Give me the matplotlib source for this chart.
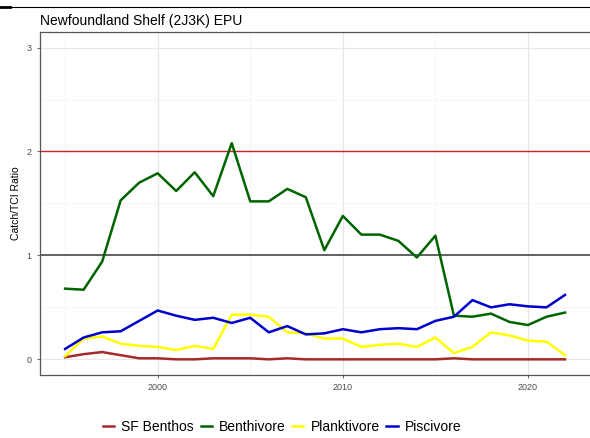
import matplotlib.pyplot as plt
from matplotlib.lines import Line2D

# catch / TCI ratio by guild, Newfoundland Shelf (2J3K)
years = list(range(1995, 2023))
sf_benthos = [0.02, 0.05, 0.07, 0.04, 0.01, 0.01, 0.00, 0.00, 0.01, 0.01,
              0.01, 0.00, 0.01, 0.00, 0.00, 0.00, 0.00, 0.00, 0.00, 0.00,
              0.00, 0.01, 0.00, 0.00, 0.00, 0.00, 0.00, 0.00]
benthivore = [0.68, 0.67, 0.94, 1.53, 1.70, 1.79, 1.62, 1.80, 1.57, 2.08,
              1.52, 1.52, 1.64, 1.56, 1.05, 1.38, 1.20, 1.20, 1.14, 0.98,
              1.19, 0.42, 0.41, 0.44, 0.36, 0.33, 0.41, 0.45]
planktivore = [0.03, 0.20, 0.22, 0.15, 0.13, 0.12, 0.09, 0.13, 0.10, 0.43,
               0.43, 0.41, 0.26, 0.25, 0.20, 0.20, 0.12, 0.14, 0.15, 0.12,
               0.21, 0.06, 0.12, 0.26, 0.23, 0.18, 0.17, 0.04]
piscivore = [0.10, 0.21, 0.26, 0.27, 0.37, 0.47, 0.42, 0.38, 0.40, 0.35,
             0.40, 0.26, 0.32, 0.24, 0.25, 0.29, 0.26, 0.29, 0.30, 0.29,
             0.37, 0.41, 0.57, 0.50, 0.53, 0.51, 0.50, 0.62]

guilds = ['SF Benthos', 'Benthivore', 'Planktivore', 'Piscivore']
colors = ['#a52a2a', '#006400', '#ffff00', '#0000cd']
series = [sf_benthos, benthivore, planktivore, piscivore]

plt.rcParams['font.family'] = ['Liberation Sans', 'DejaVu Sans']

fig = plt.figure(figsize=(5.9, 4.38), dpi=100)
ax = fig.add_axes([0.068, 0.144, 0.932, 0.783])

# grid like ggplot theme_bw
for x in [1995, 2005, 2015]:
    ax.axvline(x, color='#f2f2f2', lw=0.6, zorder=0)
for x in [2000, 2010, 2020]:
    ax.axvline(x, color='#e6e6e6', lw=0.9, zorder=0)
for y in [0.5, 1.5, 2.5]:
    ax.axhline(y, color='#f4f4f4', lw=0.6, zorder=0)
for y in [0, 3]:
    ax.axhline(y, color='#e8e8e8', lw=0.9, zorder=0)

ax.axhline(1, color='#555555', lw=1.3, zorder=1)
ax.axhline(2, color='#cc2222', lw=1.0, zorder=1)

for name, col, vals in zip(guilds, colors, series):
    ax.plot(years, vals, color=col, lw=1.8, label=name, zorder=2)

ax.set_xlim(1993.65, 2023.35)
ax.set_ylim(-0.15, 3.15)
ax.set_xticks([2000, 2010, 2020])
ax.set_yticks([0, 1, 2, 3])
ax.tick_params(colors='#4d4d4d', labelsize=6.5, length=2.5, width=0.6)
for lbl in ax.get_xticklabels() + ax.get_yticklabels():
    lbl.set_color('#4d4d4d')
for s in ['left', 'bottom', 'top']:
    ax.spines[s].set_color('#555555')
    ax.spines[s].set_linewidth(0.9)
ax.spines['right'].set_visible(False)

ax.set_ylabel('Catch/TCI Ratio', fontsize=7.5, labelpad=4)
ax.set_title('Newfoundland Shelf (2J3K) EPU', loc='left', fontsize=10, pad=5)

ax.legend(loc='upper center', bbox_to_anchor=(0.44, -0.095), ncol=4,
          frameon=False, fontsize=10, handlelength=0.8, handletextpad=0.5,
          columnspacing=0.5)

# thin rule across the top of the image
fig.add_artist(Line2D([0, 1], [0.984, 0.984], color='black', lw=0.8,
                      transform=fig.transFigure))
fig.add_artist(Line2D([0, 0.017], [0.984, 0.984], color='black', lw=2.0,
                      transform=fig.transFigure))

fig.savefig('out.png', dpi=100)
